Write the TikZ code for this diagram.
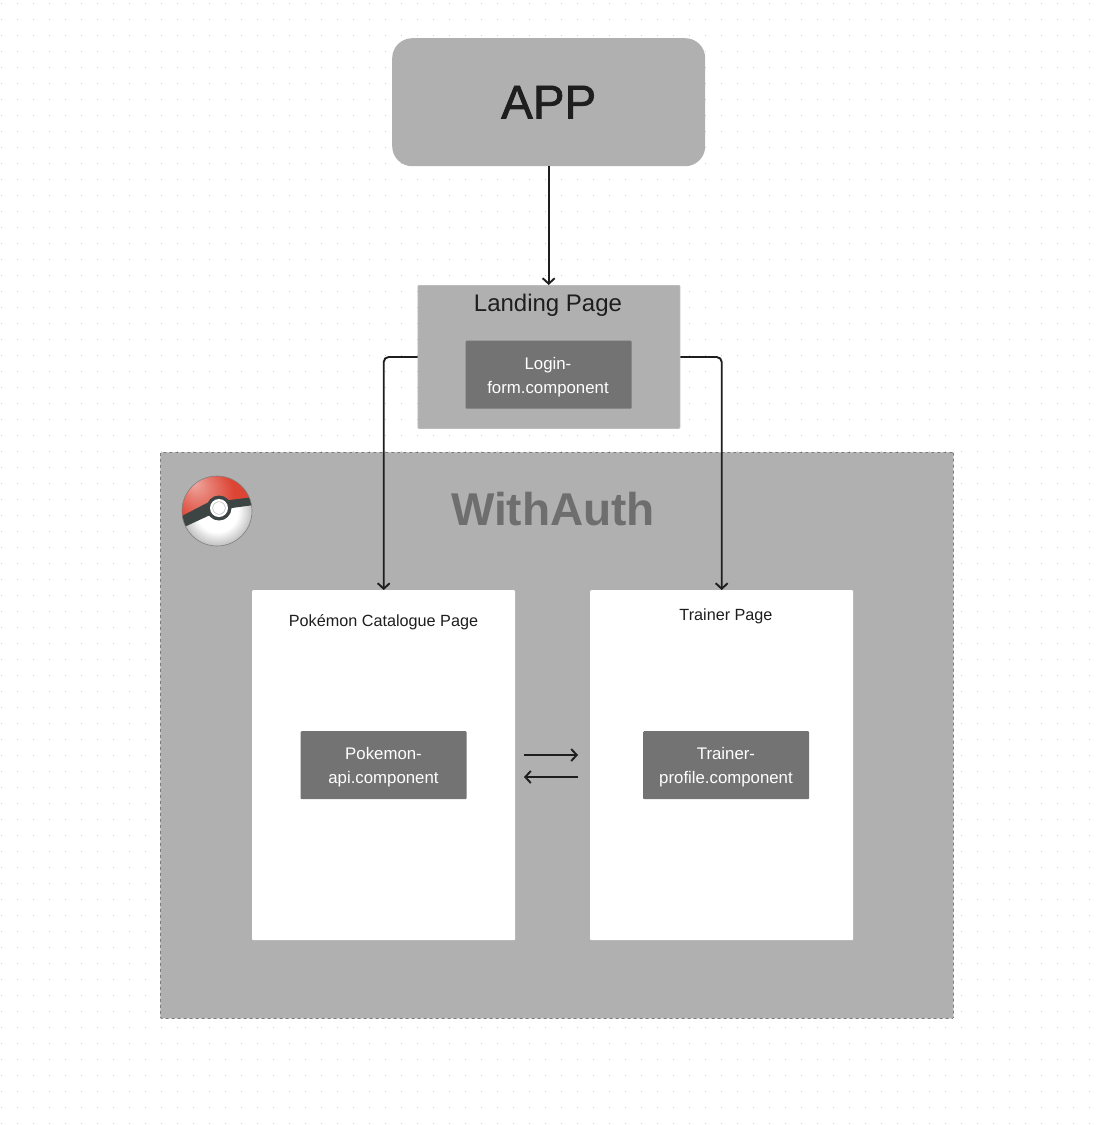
\documentclass[tikz,border=0pt]{standalone}
\usepackage{fontspec}
\setmainfont{Liberation Sans}
\newfontfamily\appfont[FakeBold=1.5]{Liberation Sans}
\usetikzlibrary{arrows.meta,calc}
\definecolor{boxgray}{HTML}{B0B0B0}
\definecolor{inner}{HTML}{737373}
\definecolor{ink}{HTML}{1E1E1E}
\definecolor{authtext}{HTML}{6E6E6E}
\definecolor{griddot}{HTML}{CFCFCF}
\definecolor{ballred}{HTML}{DC4433}
\definecolor{balldark}{HTML}{3D4544}
\pgfdeclareradialshading{ballwhite}{\pgfpoint{0bp}{0bp}}{color(0bp)=(white);color(15bp)=(white);color(27bp)=(black!30);color(34bp)=(black!48);color(50bp)=(black!48)}
\pgfdeclareradialshading{ballredshade}{\pgfpoint{-17bp}{21bp}}{color(0bp)=(ballred!45!white);color(9bp)=(ballred!70!white);color(22bp)=(ballred);color(50bp)=(ballred)}
\tikzset{
  x=1pt,y=-1pt,
  panel/.style={fill=boxgray,draw=#1,line width=0.8pt,rounded corners=1pt,inner sep=0pt,anchor=north west},
  panel/.default=boxgray!85!white,
  pagebox/.style={fill=white,draw=none,rounded corners=1pt,inner sep=0pt,anchor=north west},
  compbox/.style={fill=inner,draw=none,rounded corners=1pt,inner sep=0pt,anchor=north west,minimum width=166pt,minimum height=68pt},
  comptext/.style={text=white,inner sep=0pt,font=\fontsize{16.8}{24}\selectfont,align=center},
  pagelabel/.style={text=ink,inner sep=0pt,font=\fontsize{16.2}{20}\selectfont},
  link/.style={draw=ink,line width=1.9pt,-{Straight Barb[length=5.5pt,width=12pt,line width=1.9pt]},rounded corners=5pt},
}
\begin{document}
\begin{tikzpicture}
\useasboundingbox (0,0) rectangle (1104,1125);
\fill[white] (0,0) rectangle (1104,1125);
\foreach \i in {0,...,68}{\foreach \j in {0,...,70}{\fill[griddot] ({1.5+16*\i-0.5},{3+16*\j-0.5}) rectangle ++(1,1);}}
\node[fill=boxgray,rounded corners=20pt,inner sep=0pt,anchor=north west,minimum width=313pt,minimum height=128pt,text=ink,font=\appfont\fontsize{47.5}{50}\selectfont] (app) at (392,38) {APP};
\node[panel,minimum width=262pt,minimum height=143pt] (landing) at (417.5,285) {};
\node[inner sep=0pt,text=ink,font=\fontsize{24}{28}\selectfont] (landingt) at (548,305) {Landing Page};
\node[compbox] (login) at (465.5,340.5) {};
\node[comptext] (logint) at (548,377.5) {Login-\\form.component};
\node[panel=boxgray!70!black,dashed,minimum width=793pt,minimum height=566pt] (auth) at (160,452) {};
\node[inner sep=0pt,text=authtext,font=\bfseries\fontsize{46}{50}\selectfont] (autht) at (553,509.5) {WithAuth};
\node[pagebox,minimum width=263pt,minimum height=350pt] (catalogue) at (252,590) {};
\node[pagebox,minimum width=263pt,minimum height=350pt] (trainer) at (590,590) {};
\node[pagelabel] (cataloguet) at (383.5,622) {Pokémon Catalogue Page};
\node[pagelabel] (trainert) at (726,616) {Trainer Page};
\node[compbox] (pokeapi) at (300.5,731) {};
\node[comptext] (pokeapit) at (383.5,767.5) {Pokemon-\\api.component};
\node[compbox] (profile) at (643,731) {};
\node[comptext] (profilet) at (726,767.5) {Trainer-\\profile.component};
% connectors
\draw[link] (app.south) -- (landing.north -| app.south);
\coordinate (lw) at (landing.west |- 0,357);
\coordinate (le) at (landing.east |- 0,357);
\draw[link] (lw) -| (catalogue.north);
\draw[link] (le) -| (trainer.north);
\coordinate (ar1) at (524,755);
\coordinate (ar2) at (578,755);
\coordinate (ar3) at (578,777);
\coordinate (ar4) at (524,777);
\draw[link] (ar1) -- (ar2);
\draw[link] (ar3) -- (ar4);
% ball
\begin{scope}
\clip (217,511) circle (35);
\shade[shading=ballwhite] (182,476) rectangle (252,546);
\begin{scope}
\clip (182,476) -- (252,476) -- (252,500) -- (219,508) -- (182,522) -- cycle;
\shade[shading=ballredshade] (182,476) rectangle (252,546);
\end{scope}
\fill[balldark] (180,517) -- (207,503) -- (230,500) -- (254,497) -- (254,505) -- (232,508) -- (208,516) -- (180,529) -- cycle;
\end{scope}
\draw[gray,line width=0.6pt] (217,511) circle (35);
\fill[balldark] (219,508) circle (12.5);
\fill[white] (219,508) circle (9);
\draw[gray!60,line width=0.5pt] (219,508) circle (6.3);
\end{tikzpicture}
\end{document}
